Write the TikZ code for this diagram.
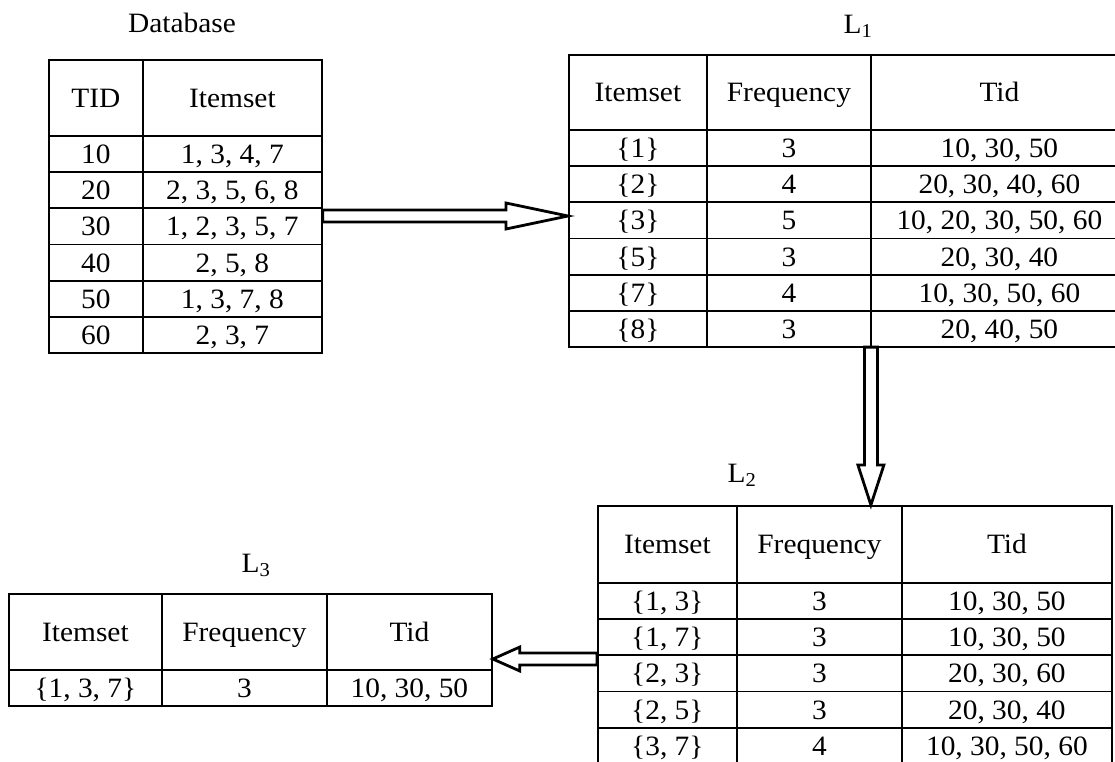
\documentclass[tikz,border=0pt]{standalone}
\usepackage{fontspec}
\setmainfont{Liberation Serif}[FakeStretch=1.05]
\usetikzlibrary{matrix,calc}

\tikzset{
  tbl/.style={matrix of nodes, inner sep=0pt, outer sep=0pt,
    column sep=-1.8pt, row sep=-1.8pt,
    nodes={draw, line width=1.8pt, inner sep=0pt, outer sep=0pt,
      minimum height=36.2pt, text height=19pt, text depth=0pt, anchor=center},
    row 1/.style={nodes={minimum height=76pt}}},
  tname/.style={anchor=base, inner sep=0pt},
  fatarrow/.style={draw, fill=white, line width=2.8pt, line join=miter}
}

% hollow block arrow: from, to, shaft half width, head half width, head length
\newcommand{\hollowarrow}[5]{%
  \coordinate (hb) at ($(#2)!#5!(#1)$);
  \draw[fatarrow] ($(#1)!#3!90:(#2)$) -- ($(hb)!#3!90:(#2)$) -- ($(hb)!#4!90:(#2)$) -- (#2)
    -- ($(hb)!#4!-90:(#2)$) -- ($(hb)!#3!-90:(#2)$) -- ($(#1)!#3!-90:(#2)$) -- cycle;
}

\begin{document}
\begin{tikzpicture}[x=1pt, y=-1pt, font=\fontsize{28}{34}\selectfont]
\useasboundingbox (0,0) rectangle (1115,761);
\clip (0,0) rectangle (1115,761);

% database
\node (dbname) [tname] at (182,32) {Database};
\matrix (db) [tbl, anchor=north west,
  column 1/.style={nodes={minimum width=94pt}},
  column 2/.style={nodes={minimum width=179pt}}] at (48,59) {
  TID & Itemset \\
  10 & 1, 3, 4, 7 \\
  20 & 2, 3, 5, 6, 8 \\
  30 & 1, 2, 3, 5, 7 \\
  40 & 2, 5, 8 \\
  50 & 1, 3, 7, 8 \\
  60 & 2, 3, 7 \\
};

% L1
\node (lonename) [tname] at (858,33) {L\textsubscript{1}};
\matrix (L1) [tbl, anchor=north west, row 1/.style={nodes={minimum height=75pt}},
  column 1/.style={nodes={minimum width=138pt}},
  column 2/.style={nodes={minimum width=164pt}},
  column 3/.style={nodes={minimum width=257pt}}] at (568,54) {
  Itemset & Frequency & Tid \\
  \{1\} & 3 & 10, 30, 50 \\
  \{2\} & 4 & 20, 30, 40, 60 \\
  \{3\} & 5 & 10, 20, 30, 50, 60 \\
  \{5\} & 3 & 20, 30, 40 \\
  \{7\} & 4 & 10, 30, 50, 60 \\
  \{8\} & 3 & 20, 40, 50 \\
};

% L2
\node (ltwoname) [tname] at (742,482) {L\textsubscript{2}};
\matrix (L2) [tbl, anchor=north west, row 1/.style={nodes={minimum height=77pt}},
  column 1/.style={nodes={minimum width=139pt}},
  column 2/.style={nodes={minimum width=165pt}},
  column 3/.style={nodes={minimum width=210pt}}] at (597,505) {
  Itemset & Frequency & Tid \\
  \{1, 3\} & 3 & 10, 30, 50 \\
  \{1, 7\} & 3 & 10, 30, 50 \\
  \{2, 3\} & 3 & 20, 30, 60 \\
  \{2, 5\} & 3 & 20, 30, 40 \\
  \{3, 7\} & 4 & 10, 30, 50, 60 \\
};

% L3
\node (lthreename) [tname] at (256,572) {L\textsubscript{3}};
\matrix (L3) [tbl, anchor=north west,
  column 1/.style={nodes={minimum width=153pt}},
  column 2/.style={nodes={minimum width=165pt}},
  column 3/.style={nodes={minimum width=165pt}}] at (8,593) {
  Itemset & Frequency & Tid \\
  \{1, 3, 7\} & 3 & 10, 30, 50 \\
};

% arrows
\coordinate (dbout) at (db.east |- 0,216);
\coordinate (lonein) at (L1.west |- 0,216);
\coordinate (loneout) at (L1-7-2.south east);
\coordinate (ltwoin) at (loneout |- L2.north);
\coordinate (ltwoout) at (L2.west |- 0,659);
\coordinate (lthreein) at (L3.east |- 0,659);
\hollowarrow{dbout}{lonein}{6pt}{13pt}{62pt}
\hollowarrow{loneout}{ltwoin}{6.5pt}{13pt}{40pt}
\hollowarrow{ltwoout}{lthreein}{6pt}{12pt}{27pt}
\end{tikzpicture}
\end{document}
